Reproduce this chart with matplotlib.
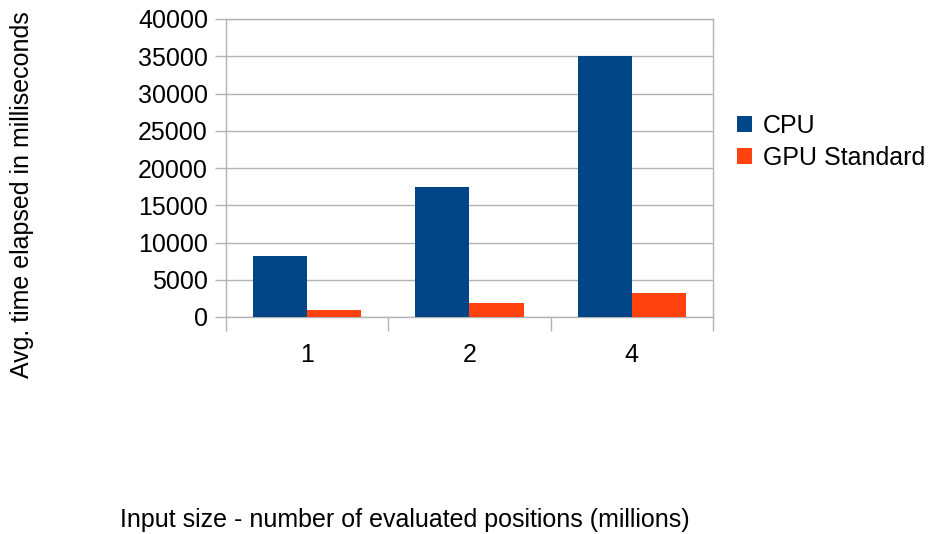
import matplotlib.pyplot as plt
import numpy as np

plt.rcParams['font.family'] = ['Liberation Sans', 'DejaVu Sans']

sizes = ['1', '2', '4']
cpu = [8250, 17450, 35100]
gpu_standard = [950, 1900, 3250]

fig = plt.figure(figsize=(9.37, 5.34), dpi=100)
ax = fig.add_axes([226 / 937, 1 - 317 / 534, 487 / 937, 298 / 534])

x = np.arange(len(sizes))
w = 1 / 3
ax.bar(x - w / 2, cpu, width=w, color='#004586', label='CPU', zorder=3)
ax.bar(x + w / 2, gpu_standard, width=w, color='#ff420e', label='GPU Standard', zorder=3)

ax.set_xlim(-0.5, len(sizes) - 0.5)
ax.set_ylim(0, 40000)
ax.set_yticks(range(0, 40001, 5000))
ax.yaxis.grid(True, color='#b3b3b3', linewidth=1, zorder=0)

# category labels centred, tick marks on the category boundaries
ax.set_xticks(x)
ax.set_xticklabels(sizes)
ax.tick_params(axis='x', length=0, pad=19, labelsize=18)
ax.set_xticks(np.arange(-0.5, len(sizes)), minor=True)
ax.tick_params(axis='x', which='minor', length=10, color='#b3b3b3', width=1)
ax.tick_params(axis='y', length=8, color='#b3b3b3', width=1, labelsize=18, pad=5)

for s in ax.spines.values():
    s.set_color('#b3b3b3')
    s.set_linewidth(1)

fig.text(22 / 937, 1 - 195 / 534, 'Avg. time elapsed in milliseconds', rotation=90,
         ha='center', va='center', fontsize=18)
fig.text(405 / 937, 1 - 520 / 534, 'Input size - number of evaluated positions (millions)',
         ha='center', va='center', fontsize=18)

fig.legend(loc='center left', bbox_to_anchor=(737 / 937, 1 - 142 / 534), frameon=False,
           fontsize=18, handlelength=0.6, handleheight=0.6, handletextpad=0.45,
           labelspacing=0.32, borderpad=0, borderaxespad=0)

fig.savefig('out.png', dpi=100)
